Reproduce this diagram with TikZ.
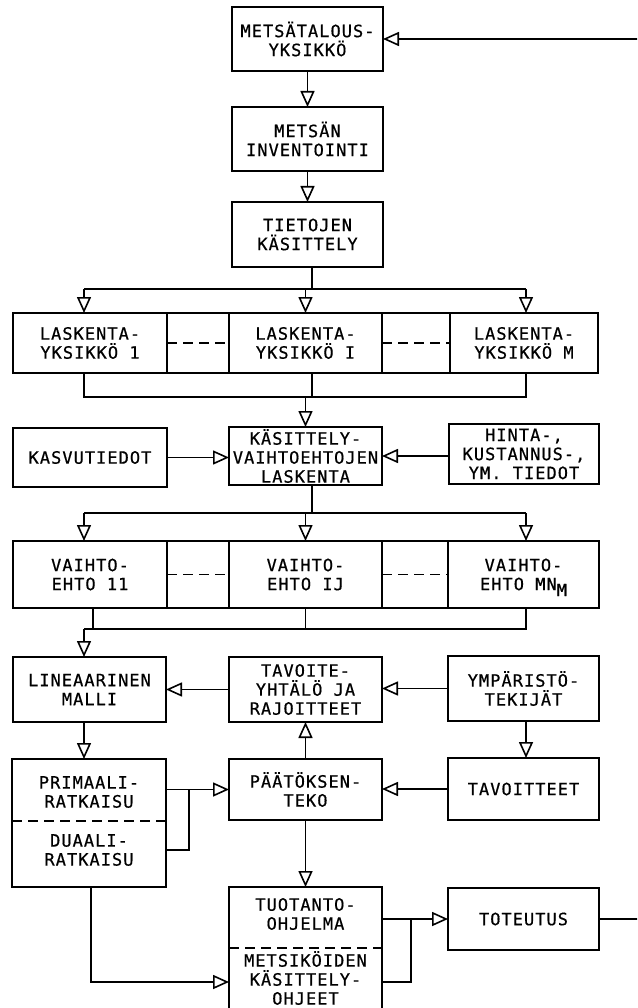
\documentclass[tikz,border=0pt]{standalone}
\usepackage{fontspec}
\newfontfamily\tw[LetterSpace=6,FakeBold=0.6]{DejaVu Sans Mono}
\usetikzlibrary{arrows.meta}
\begin{document}
\begin{tikzpicture}[x=1pt,y=-1pt,line width=1.6pt,
  box/.style={draw, inner sep=0pt, outer sep=0pt, align=center, font=\tw\fontsize{17}{19}\selectfont},
  txt/.style={inner sep=0pt, align=center, font=\tw\fontsize{17}{19}\selectfont},
  arr/.style={-{Triangle[open,length=16pt,width=14pt]}},
  gapdash/.style={dash pattern=on 10pt off 6pt}]
\useasboundingbox (0,0) rectangle (637,1008);
\clip (0,0) rectangle (637,1008);
% top chain
\node[box, minimum width=151pt, minimum height=64pt] (MET) at (307.5,39) {METSÄTALOUS-\\YKSIKKÖ};
\node[box, minimum width=151pt, minimum height=64pt] (INV) at (307.5,139) {METSÄN\\INVENTOINTI};
\node[box, minimum width=151pt, minimum height=65pt] (TIE) at (307.5,234.5) {TIETOJEN\\KÄSITTELY};
\draw[arr] (MET.south) -- (INV.north);
\draw[arr] (INV.south) -- (TIE.north);
% laskenta row
\node[box, minimum width=154pt, minimum height=60pt] (L1) at (90,343) {LASKENTA-\\YKSIKKÖ 1};
\node[box, minimum width=153pt, minimum height=60pt] (LI) at (305.5,343) {LASKENTA-\\YKSIKKÖ I};
\node[box, minimum width=148pt, minimum height=60pt] (LM) at (524,343) {LASKENTA-\\YKSIKKÖ M};
\draw (L1.north east) -- (LI.north west);
\draw (L1.south east) -- (LI.south west);
\draw[gapdash] (L1.east) -- (LI.west);
\draw (LI.north east) -- (LM.north west);
\draw (LI.south east) -- (LM.south west);
\draw[gapdash] (LI.east) -- (LM.west);
\coordinate (s1) at (312,289);
\coordinate (h1a) at (84,289);
\coordinate (h1b) at (526,289);
\draw (TIE.south -| s1) -- (s1);
\draw (h1a) -- (h1b);
\draw[arr] (h1a) -- (h1a |- L1.north);
\draw[arr] (LI.north |- h1a) -- (LI.north);
\draw[arr] (h1b) -- (h1b |- LM.north);
% kasittely row
\node[box, minimum width=154pt, minimum height=59pt] (KASV) at (90,457.5) {KASVUTIEDOT};
\node[box, minimum width=153pt, minimum height=58pt] (KAS) at (305.5,456) {KÄSITTELY-\\VAIHTOEHTOJEN\\LASKENTA};
\node[box, minimum width=150pt, minimum height=60pt] (HIN) at (524,454) {HINTA-,\\KUSTANNUS-,\\YM. TIEDOT};
\coordinate (h2a) at (84,397);
\coordinate (h2b) at (526,397);
\draw (h2a |- L1.south) -- (h2a) -- (h2b) -- (h2b |- LM.south);
\draw (LI.south -| s1) -- (s1 |- h2a);
\draw[arr] (KAS.north |- h2a) -- (KAS.north);
\draw[arr] (KASV.east) -- (KASV.east -| KAS.west);
\draw[arr] (KAS.east -| HIN.west) -- (KAS.east);
% vaihtoehto row
\node[box, minimum width=154pt, minimum height=67pt] (V11) at (90,574.5) {VAIHTO-\\EHTO 11};
\node[box, minimum width=153pt, minimum height=67pt] (VIJ) at (305.5,574.5) {VAIHTO-\\EHTO IJ};
\node[box, minimum width=151pt, minimum height=67pt] (VMN) at (523.5,574.5) {VAIHTO-\\EHTO MN\raisebox{-6pt}[0pt][0pt]{M}};
\draw (V11.north east) -- (VIJ.north west);
\draw (V11.south east) -- (VIJ.south west);
\draw[gapdash] (V11.east) -- (VIJ.west);
\draw (VIJ.north east) -- (VMN.north west);
\draw (VIJ.south east) -- (VMN.south west);
\draw[gapdash] (VIJ.east) -- (VMN.west);
\coordinate (h3a) at (84,513);
\coordinate (h3b) at (526,513);
\draw (KAS.south -| s1) -- (s1 |- h3a);
\draw (h3a) -- (h3b);
\draw[arr] (h3a) -- (h3a |- V11.north);
\draw[arr] (VIJ.north |- h3a) -- (VIJ.north);
\draw[arr] (h3b) -- (h3b |- VMN.north);
% model row
\node[box, minimum width=153pt, minimum height=65pt] (LIN) at (89.5,689.5) {LINEAARINEN\\MALLI};
\node[box, minimum width=153pt, minimum height=65pt] (TAV) at (305.5,689.5) {TAVOITE-\\YHTÄLÖ JA\\RAJOITTEET};
\node[box, minimum width=151pt, minimum height=65pt] (YMP) at (523.5,688.5) {YMPÄRISTÖ-\\TEKIJÄT};
\coordinate (v1) at (93,629);
\coordinate (h4a) at (84,629);
\coordinate (h4b) at (526,629);
\draw (v1 |- V11.south) -- (v1);
\draw (VIJ.south) -- (VIJ.south |- h4a);
\draw (h4b |- VMN.south) -- (h4b) -- (h4a);
\draw[arr] (h4a) -- (h4a |- LIN.north);
\draw[arr] (TAV.west) -- (LIN.east);
\draw[arr] (YMP.west) -- (YMP.west -| TAV.east);
% decision row
\node[box, minimum width=154pt, minimum height=128pt] (PRIM) at (89,823) {};
\node[txt] (PRIMt) at (89,792) {PRIMAALI-\\RATKAISU};
\node[txt] (DUALt) at (89,850) {DUAALI-\\RATKAISU};
\coordinate (d1) at (0,821);
\draw[gapdash] (PRIM.west |- d1) -- (PRIM.east |- d1);
\node[box, minimum width=153pt, minimum height=61pt] (PAAT) at (305.5,789.5) {PÄÄTÖKSEN-\\TEKO};
\node[box, minimum width=151pt, minimum height=62pt] (TAVT) at (523.5,789) {TAVOITTEET};
\draw[arr] (LIN.south -| h4a) -- (PRIM.north -| h4a);
\draw[arr] (YMP.south -| h4b) -- (TAVT.north -| h4b);
\draw[arr] (PAAT.north) -- (TAV.south);
\draw[arr] (TAVT.west) -- (TAVT.west -| PAAT.east);
\draw[arr] (PRIM.east |- PAAT.west) -- (PAAT.west);
\coordinate (j1) at (189,789.5);
\draw (PRIM.east |- DUALt) -- (DUALt -| j1) -- (j1);
% output row
\node[box, minimum width=153pt, minimum height=128pt] (TUOT) at (305.5,951) {};
\node[txt] (TUOTt) at (305.5,914) {TUOTANTO-\\OHJELMA};
\node[txt] (METSt) at (305.5,978) {METSIKÖIDEN\\KÄSITTELY-\\OHJEET};
\coordinate (d2) at (0,948);
\draw[gapdash] (TUOT.west |- d2) -- (TUOT.east |- d2);
\node[box, minimum width=151pt, minimum height=62pt] (TOT) at (523.5,919) {TOTEUTUS};
\draw[arr] (PAAT.south) -- (TUOT.north);
\coordinate (p1) at (91,982);
\draw[arr] (PRIM.south -| p1) -- (p1) -- (p1 -| TUOT.west);
\draw[arr] (TUOT.east |- TOT.west) -- (TOT.west);
\coordinate (j2) at (411,919);
\draw (TUOT.east |- p1) -- (p1 -| j2) -- (j2);
% feedback
\coordinate (e1) at (645,919);
\coordinate (e2) at (645,39);
\draw (TOT.east) -- (e1);
\draw[arr] (e2) -- (MET.east);
\end{tikzpicture}
\end{document}
